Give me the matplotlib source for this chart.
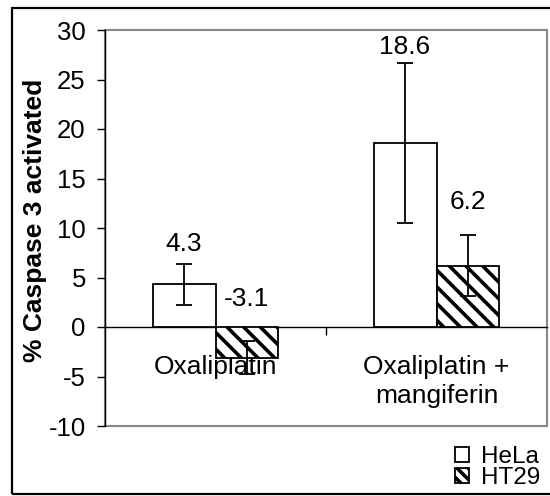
import matplotlib.pyplot as plt
import numpy as np
from matplotlib.patches import Patch, Rectangle

plt.rcParams['font.family'] = ['Liberation Sans', 'DejaVu Sans']
plt.rcParams['hatch.linewidth'] = 2.6
plt.rcParams['axes.unicode_minus'] = False

# data
categories = ['Oxaliplatin', 'Oxaliplatin +\nmangiferin']
series = ['HeLa', 'HT29']
hela = [4.3, 18.6]
hela_err = [2.1, 8.1]
ht29 = [-3.1, 6.2]
ht29_err = [1.65, 3.1]
# where Excel left the data labels (y, data units)
hela_label_y = [8.4, 28.3]
ht29_label_y = [2.8, 12.6]

fig = plt.figure(figsize=(5.5, 4.96), dpi=100)
ax = fig.add_axes([105 / 550, 70 / 496, 442 / 550, 396 / 496])

x = np.arange(len(categories))
w = 0.285
ax.bar(x - w / 2, hela, w, color='white', edgecolor='black', linewidth=1.3, zorder=3)
ax.bar(x + w / 2, ht29, w, color='white', edgecolor='black', linewidth=1.3,
       hatch='\\\\', zorder=3)
ax.errorbar(x - w / 2, hela, yerr=hela_err, fmt='none', ecolor='black',
            elinewidth=1.3, capsize=6, capthick=1.3, zorder=4)
ax.errorbar(x + w / 2, ht29, yerr=ht29_err, fmt='none', ecolor='black',
            elinewidth=1.3, capsize=6, capthick=1.3, zorder=4)

for i in range(len(categories)):
    ax.text(x[i] - w / 2, hela_label_y[i], f'{hela[i]}', ha='center', va='center', fontsize=19)
    ax.text(x[i] + w / 2, ht29_label_y[i], f'{ht29[i]}', ha='center', va='center', fontsize=19)
    ax.text(x[i], -2.8, categories[i], ha='center', va='top', fontsize=19,
            linespacing=1.3, zorder=2)

ax.set_xlim(-0.5, 1.5)
ax.set_ylim(-10, 30)
ax.set_yticks(range(-10, 31, 5))
ax.set_xticks([0.5])
ax.set_xticklabels([])
ax.tick_params(axis='y', direction='out', length=5.8, width=1, labelsize=18.5, pad=8)
ax.tick_params(axis='x', direction='out', length=5.8, width=1)

ax.spines['top'].set_visible(False)
ax.spines['right'].set_visible(False)
ax.spines['bottom'].set_position(('data', 0))
ax.spines['left'].set_linewidth(1)
ax.spines['bottom'].set_linewidth(1)
ax.add_patch(Rectangle((0, 0), 1, 1, transform=ax.transAxes, fill=False,
                       edgecolor='#888888', linewidth=1.5, clip_on=False, zorder=1))

ax.set_ylabel('% Caspase 3 activated', fontsize=19, fontweight='bold')
ax.yaxis.set_label_coords(-0.132, 0.52)

handles = [Patch(facecolor='white', edgecolor='black', linewidth=1.3, label=series[0]),
           Patch(facecolor='white', edgecolor='black', linewidth=1.3, hatch='\\\\\\', label=series[1])]
fig.legend(handles=handles, loc='lower right', bbox_to_anchor=(540 / 550, 7 / 496),
           frameon=False, fontsize=17.5, handlelength=0.55, handleheight=0.55,
           handletextpad=0.5, labelspacing=-0.05, borderpad=0, borderaxespad=0)

fig.patches.append(Rectangle((12 / 550, 2 / 496), 1.0, 486 / 496, transform=fig.transFigure,
                             fill=False, edgecolor='black', linewidth=1.6))

fig.savefig('out.png', dpi=100)
